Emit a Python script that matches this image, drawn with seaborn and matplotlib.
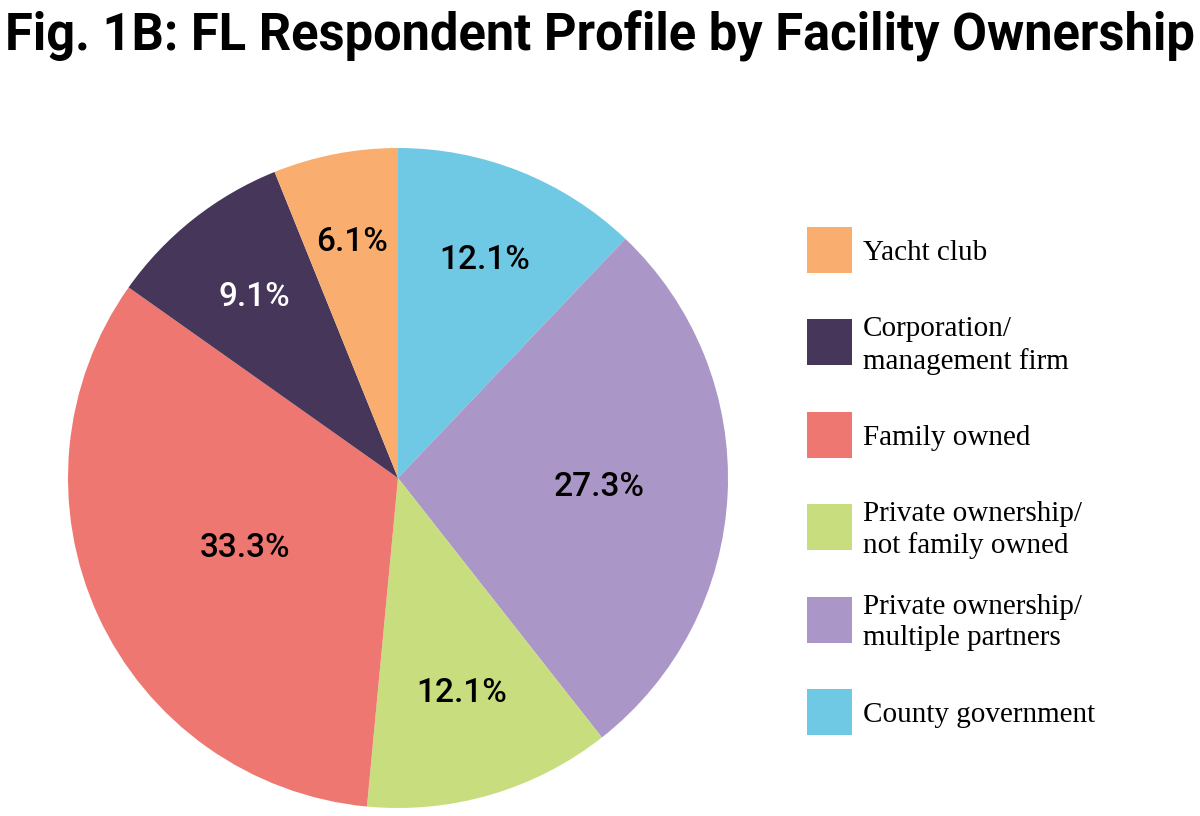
import numpy as np
import matplotlib
matplotlib.use("Agg")
import matplotlib.pyplot as plt
import seaborn as sns
from matplotlib.patches import Rectangle

# slices, clockwise from 12 o'clock
categories = ["County government", "Private ownership/\nmultiple partners",
              "Private ownership/\nnot family owned", "Family owned",
              "Corporation/\nmanagement firm", "Yacht club"]
shares = [12.1, 27.3, 12.1, 33.3, 9.1, 6.1]
pct_labels = ["12.1%", "27.3%", "12.1%", "33.3%", "9.1%", "6.1%"]
colors = ["#6FC9E5", "#AA96C7", "#C8DE7E", "#EE7871", "#45365A", "#F9AE6F"]

legend_order = ["Yacht club", "Corporation/\nmanagement firm", "Family owned",
                "Private ownership/\nnot family owned",
                "Private ownership/\nmultiple partners", "County government"]

sns.set_theme(style="white")
plt.rcParams['font.family'] = ['Roboto', 'DejaVu Sans']

fig = plt.figure(figsize=(12, 8.16), dpi=100)
ax = fig.add_axes([68 / 1200, 8 / 816, 660 / 1200, 660 / 816])

wedges, _ = ax.pie(shares, colors=colors, startangle=90, counterclock=False,
                   radius=1, wedgeprops=dict(linewidth=0))
ax.set_xlim(-1, 1)
ax.set_ylim(-1, 1)
ax.set_aspect("equal")
ax.axis("off")

# percentage labels, placed along each wedge's middle angle
dists = [0.71, 0.61, 0.68, 0.51, 0.70, 0.73]
for w, lab, d, c in zip(wedges, pct_labels, dists, colors):
    ang = np.deg2rad((w.theta1 + w.theta2) / 2)
    col = "white" if c == "#45365A" else "black"
    ax.text(d * np.cos(ang), d * np.sin(ang), lab, ha="center", va="center",
            fontsize=24, fontweight="medium", color=col)

title = fig.text(0.5, 1 - 36 / 816, "Fig. 1B: FL Respondent Profile by Facility Ownership",
                 ha="center", va="center", fontsize=40, fontweight="bold", color="black")
# shrink the title so it spans the width like the original
fig.canvas.draw()
bb = title.get_window_extent()
title.set_fontsize(40 * 1188 / bb.width)

# legend on the right
cmap = dict(zip(categories, colors))
for i, lab in enumerate(legend_order):
    cy = 250 + i * 92.4
    fig.add_artist(Rectangle((807 / 1200, 1 - (cy + 23) / 816), 45 / 1200, 46 / 816,
                             transform=fig.transFigure, color=cmap[lab], lw=0))
    fig.text(863 / 1200, 1 - (cy + 3) / 816, lab, ha="left", va="center",
             fontsize=21, family="Liberation Serif", linespacing=1.25, color="black")

fig.savefig("out.png", dpi=100, facecolor="white")
